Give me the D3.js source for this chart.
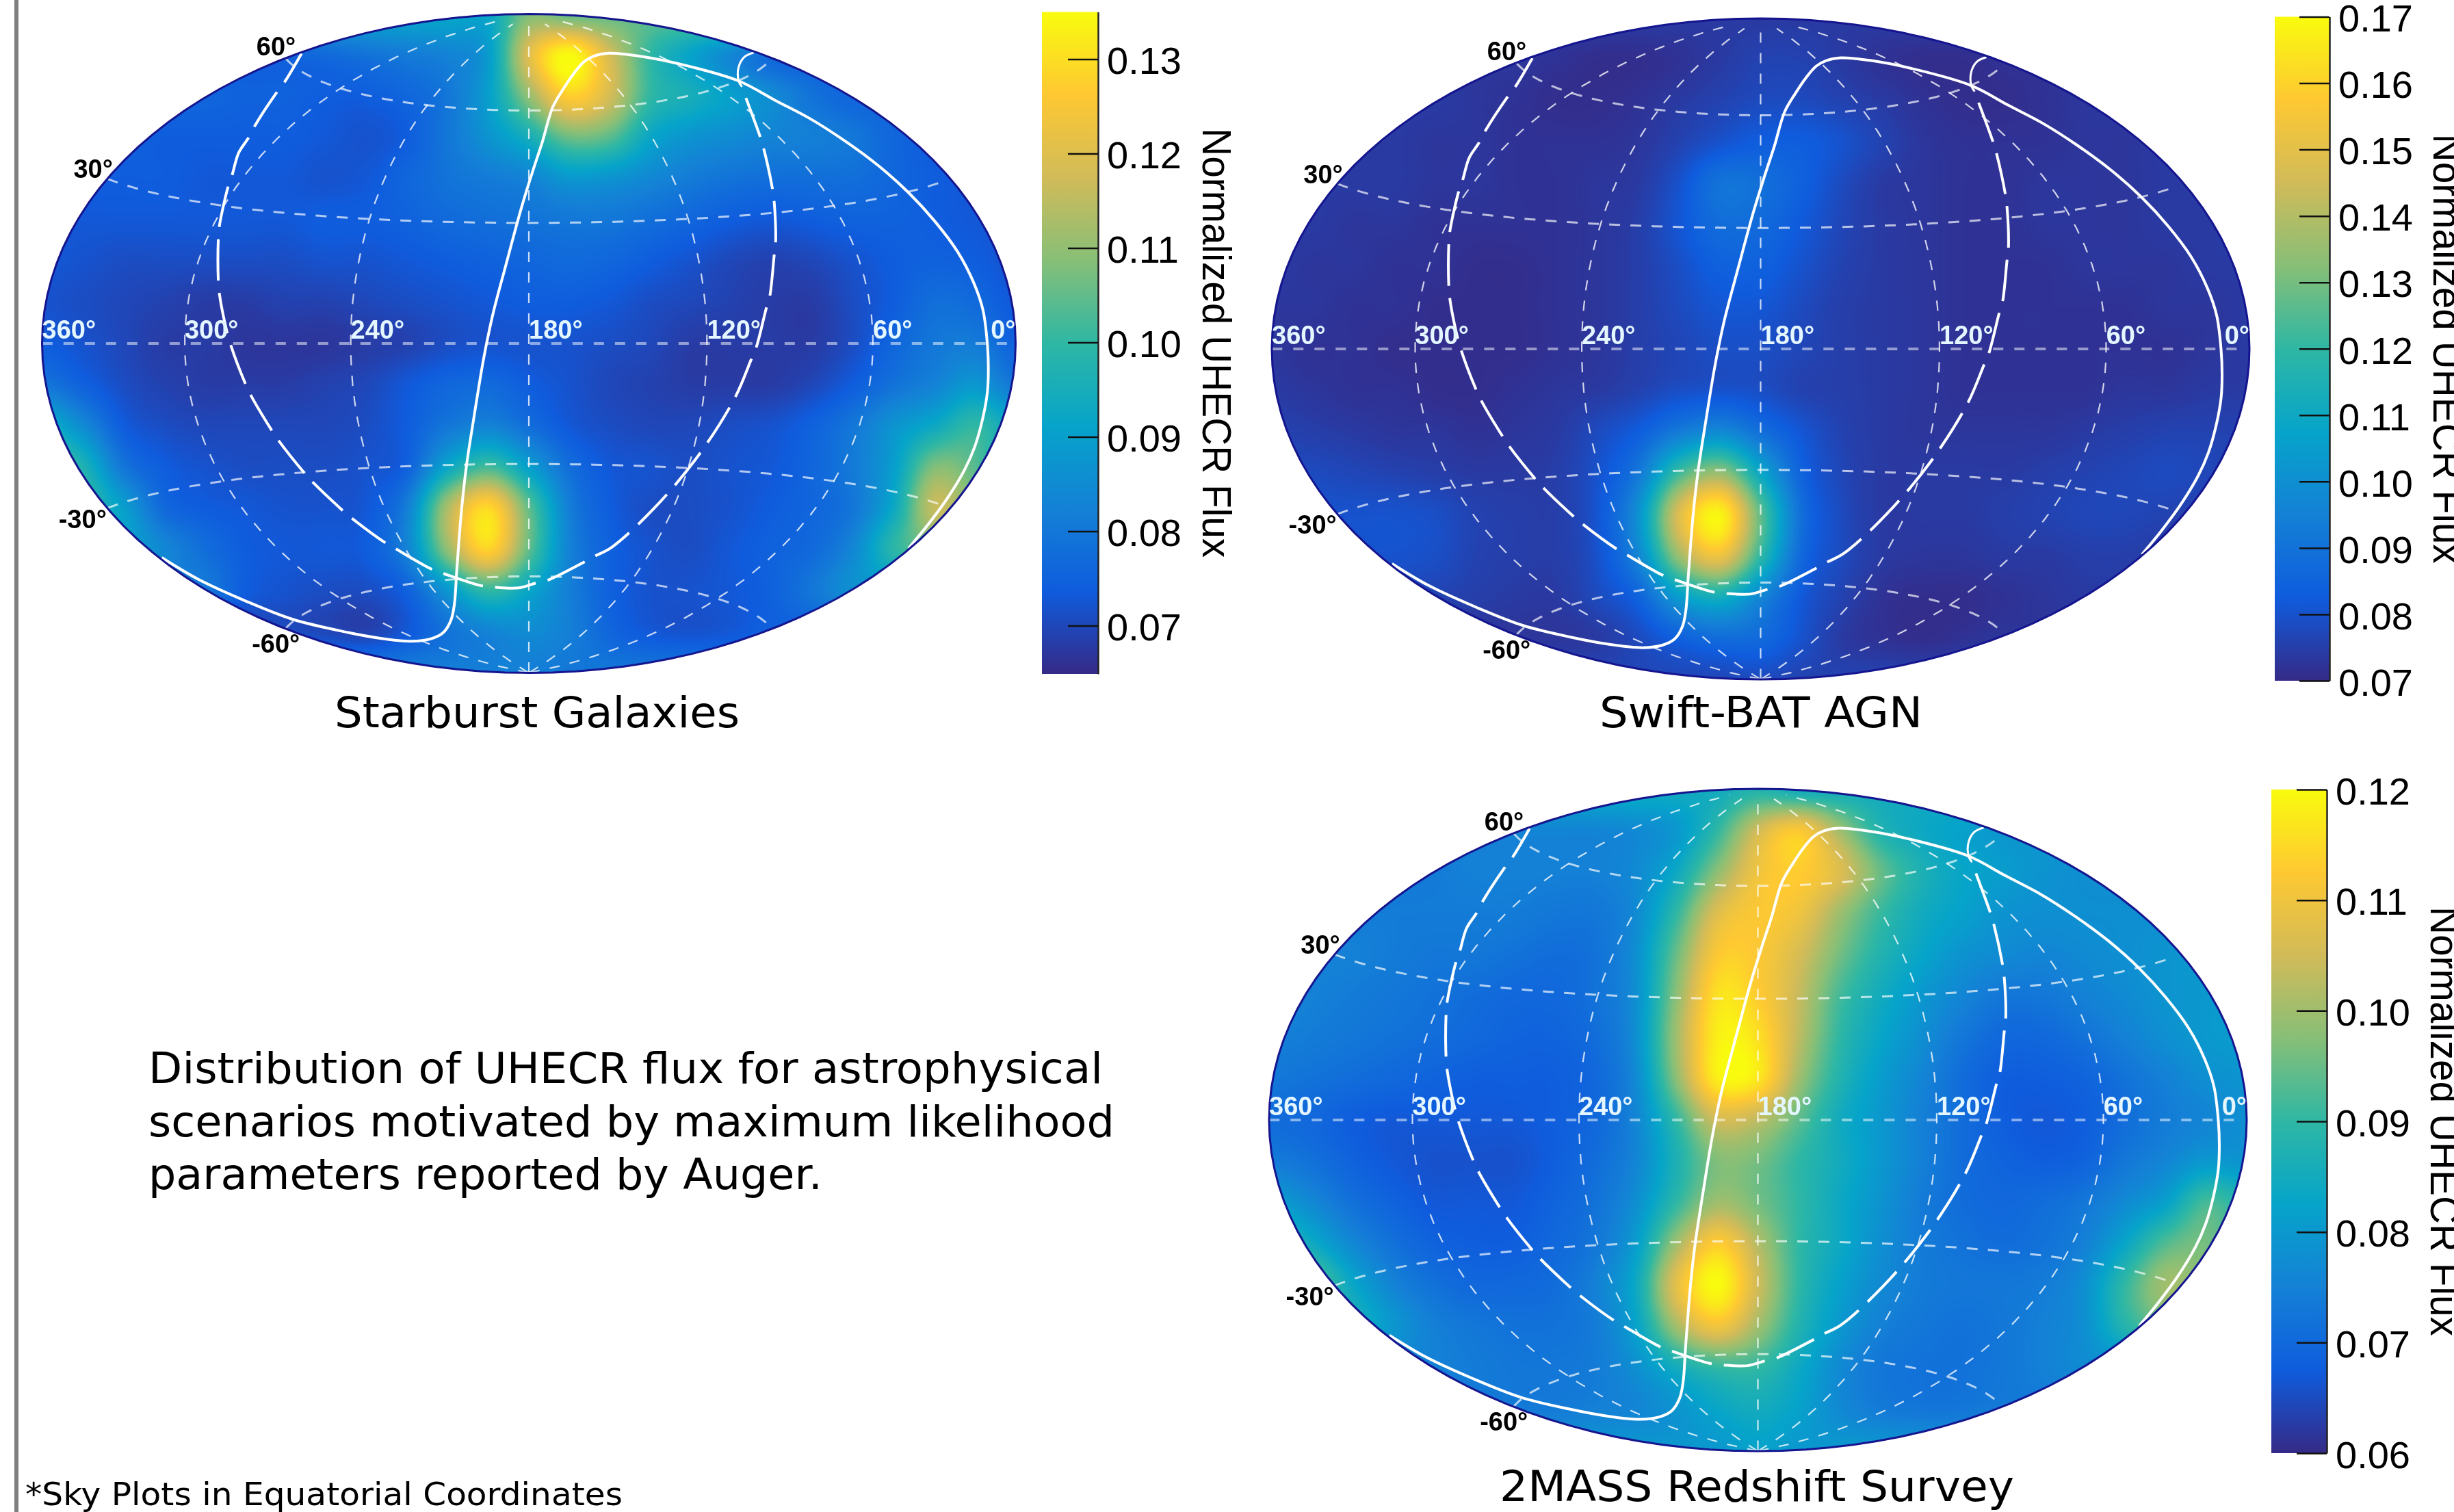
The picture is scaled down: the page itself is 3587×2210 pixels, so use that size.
<!DOCTYPE html>
<html><head><meta charset="utf-8">
<style>html,body{margin:0;padding:0;background:#fff}#wrap{position:relative;width:3587px;height:2210px;overflow:hidden}canvas,svg{position:absolute;left:0;top:0}</style>
<script src="https://cdn.jsdelivr.net/npm/d3@7"></script>
</head><body><div id="wrap"><canvas id="heat" width="3587" height="2210"></canvas><svg id="chart" width="3587" height="2210"></svg></div>
<script>
// Flux, x1000, at nodes of the projected plane.
// Rows run top to bottom (v = 1 ... -1, step 1/8); each row is centred on u = 0 with u step 1/12.
const fluxStarburst = [
[92,108,105],
[76,77,79,81,83,89,120,135,118,100,91,84,78],
[76,75,75,74,74,76,80,90,110,127,118,100,95,90,85,79,76],
[75,74,74,74,74,73,72,74,80,87,95,106,104,92,87,85,83,82,80,76,74],
[74,74,74,73,73,73,72,73,76,79,81,83,88,87,84,81,79,78,78,78,76,74,73],
[73,73,73,73,73,73,73,74,74,75,77,78,79,80,80,78,76,74,73,74,75,75,74,73,73],
[73,72,71,71,71,71,71,72,72,73,74,75,76,77,76,74,72,70,69,70,72,74,75,74,72],
[72,71,70,69,68,68,69,69,70,71,72,73,74,74,73,71,70,69,68,68,71,74,78,77,73],
[74,72,70,68,68,67,67,67,68,69,71,72,72,72,71,70,68,68,68,68,71,76,80,81,75],
[80,75,71,69,68,68,68,69,70,73,76,77,74,72,70,69,68,68,68,70,74,79,83,88,80],
[95,85,74,71,70,70,70,70,71,74,80,83,78,73,71,70,70,71,72,75,80,87,93,100,92],
[105,97,80,74,72,71,71,71,72,75,92,102,90,78,73,72,71,72,73,76,81,90,108,104,92],
[100,90,77,74,73,72,72,73,82,113,129,105,82,74,71,71,72,74,76,80,93,116,108],
[90,84,78,74,73,73,74,83,110,128,105,83,75,72,71,73,75,77,84,99,105],
[80,74,72,71,71,75,88,100,92,82,75,72,72,73,75,80,86],
[71,70,69,73,79,83,85,82,76,73,72,73,75],
[82,82,80]];
const fluxSwift = [
[74,74,74],
[73,72,71,71,72,74,76,76,74,72,71,71,72],
[74,73,72,71,71,72,74,76,78,78,76,74,72,71,71,72,73],
[74,74,73,73,72,72,72,73,76,80,83,83,80,76,73,72,72,72,73,73,74],
[74,74,74,73,73,72,72,73,74,80,90,89,84,78,74,73,72,72,73,73,73,74,74],
[74,74,73,73,72,72,72,72,73,75,81,88,87,82,77,74,73,72,72,73,73,73,74,74,75],
[74,73,73,72,72,71,71,72,73,75,79,84,84,80,76,74,73,72,72,72,73,73,73,74,74],
[73,73,72,72,71,71,71,72,73,75,78,81,81,78,75,74,73,72,72,72,72,72,73,73,74],
[73,72,72,71,71,71,71,72,73,75,77,79,79,77,75,74,73,72,72,72,72,72,72,73,74],
[74,73,72,72,71,71,72,73,74,76,79,80,79,76,75,74,73,72,72,72,72,73,73,74,74],
[76,75,74,73,73,72,73,74,78,83,93,98,89,81,76,74,73,73,73,73,74,75,76,76,76],
[78,78,77,76,75,74,74,75,80,92,122,135,109,85,77,74,74,74,74,75,76,77,78,77,76],
[80,80,80,79,76,75,75,81,101,148,168,127,89,78,74,74,74,75,76,77,77,76,75],
[80,80,79,76,75,75,80,97,136,153,120,87,78,74,73,73,74,74,75,75,74],
[76,75,74,74,78,85,105,113,97,82,76,72,71,71,72,73,74],
[73,73,74,78,84,88,87,80,74,72,71,72,73],
[77,78,76]];
const fluxTwoMass = [
[85,88,85],
[76,76,76,77,80,90,105,112,100,88,84,82,80],
[74,75,75,75,75,77,84,98,110,113,107,95,87,83,81,79,78],
[74,74,74,74,74,73,73,77,90,107,112,110,100,91,85,82,79,78,78,78,78],
[75,75,74,73,73,72,71,72,78,95,112,112,106,96,88,83,79,77,76,77,78,79,80],
[76,75,74,73,72,71,70,70,72,78,98,116,113,104,92,85,80,76,73,73,75,77,79,80,81],
[75,74,73,72,71,70,69,69,71,78,100,118,116,103,90,83,78,73,70,70,72,75,78,80,81],
[73,72,71,70,69,68,68,68,70,77,98,118,117,100,88,81,76,71,68,68,69,72,75,78,79],
[71,70,68,67,67,67,67,68,70,76,90,105,103,94,85,80,75,71,68,67,68,71,74,76,78],
[74,72,69,67,66,66,66,68,71,76,87,97,96,90,85,80,75,71,69,68,69,73,76,80,79],
[82,77,72,69,67,67,67,69,72,78,90,100,96,90,84,79,74,71,70,71,73,77,82,92,88],
[92,85,77,72,69,68,68,70,73,81,100,113,102,90,84,78,74,72,71,72,75,83,93,96,90],
[95,84,76,72,70,70,71,75,84,108,120,105,90,82,77,74,73,73,74,78,90,100,97],
[86,80,75,73,72,72,74,82,100,110,100,88,80,75,73,72,73,75,78,88,94],
[75,74,73,73,74,78,85,90,90,84,77,73,72,72,73,75,77],
[74,74,75,76,79,83,85,82,77,74,73,73,74],
[80,82,80]];

// Overlay curves, in [u, v] fractions of the map's half-axes.
const solidCurve = [[.780,-.622],[.820,-.550],[.858,-.474],[.895,-.384],[.916,-.314],[.933,-.224],[.942,-.148],[.944,-.079],[.942,-.003],[.933,.101],[.914,.184],[.881,.278],[.834,.371],[.780,.458],[.717,.541],[.647,.617],[.577,.683],[.506,.738],[.431,.797],[.308,.849],[.224,.873],[.164,.881],[.135,.873],[.114,.856],[.093,.821],[.071,.773],[.049,.717],[.028,.613],[.008,.523],[-.015,.413],[-.047,.239],[-.073,.094],[-.086,.006],[-.096,-.072],[-.112,-.217],[-.128,-.370],[-.138,-.501],[-.148,-.688],[-.153,-.792],[-.160,-.840],[-.176,-.878],[-.202,-.897],[-.241,-.904],[-.305,-.895],[-.389,-.872],[-.486,-.837],[-.583,-.781],[-.679,-.716],[-.754,-.650]];
const dashedCurve = [[-.467,.880],[-.502,.793],[-.518,.762],[-.564,.658],[-.576,.624],[-.596,.579],[-.610,.509],[-.618,.475],[-.636,.354],[-.638,.316],[-.638,.191],[-.636,.154],[-.625,.066],[-.613,-.002],[-.583,-.120],[-.572,-.155],[-.529,-.262],[-.515,-.293],[-.463,-.390],[-.446,-.418],[-.384,-.505],[-.365,-.529],[-.296,-.604],[-.275,-.622],[-.200,-.685],[-.176,-.698],[-.099,-.735],[-.070,-.740],[-.021,-.742],[.013,-.728],[.038,-.719],[.113,-.664],[.135,-.646],[.17,-.619],[.257,-.501],[.348,-.341],[.423,-.166],[.457,-.048],[.467,-.013],[.488,.108],[.495,.143],[.504,.267],[.507,.305],[.504,.43],[.501,.465],[.483,.589],[.476,.624],[.446,.745]];
const capArc = [[.462,.883],[.443,.870],[.431,.839],[.431,.797],[.438,.779]];

const raLines = [300,240,180,120,60];
const raLabels = [360,300,240,180,120,60,0];
const decLines = [-60,-30,30,60];
const ticksStarburst = [.07,.08,.09,.10,.11,.12,.13];
const ticksSwift = [.07,.08,.09,.10,.11,.12,.13,.14,.15,.16,.17];
const ticksTwoMass = [.06,.07,.08,.09,.10,.11,.12];
const captions = ["Starburst Galaxies","Swift-BAT AGN","2MASS Redshift Survey"];
const noteLines = ["Distribution of UHECR flux for astrophysical","scenarios motivated by maximum likelihood","parameters reported by Auger."];
const footnote = "*Sky Plots in Equatorial Coordinates";
const axisTitle = "Normalized UHECR Flux";
const birdStops = [[.2082,.1664,.5293],[.0592,.3599,.8684],[.0780,.5041,.8385],[.0232,.6419,.7914],[.1802,.7178,.6425],[.5301,.7492,.4662],[.8186,.7328,.3499],[.9956,.7862,.1968],[.9764,.9832,.0539]];

const panels = [
 {flux:fluxStarburst, ticks:ticksStarburst, cx:773,    cy:502,  rx:711.5, ry:481.5, lo:.0649, hi:.135, barX:1523, barR:1605, barT:17.5, barB:985,  titleX:1758, cap:captions[0], capX:785,  capY:1063, capW:592},
 {flux:fluxSwift,     ticks:ticksSwift,     cx:2573.5, cy:510,  rx:714.5, ry:483,   lo:.07,   hi:.17,  barX:3325, barR:3405, barT:24.5, barB:995,  titleX:3557, cap:captions[1], capX:2574, capY:1063, capW:472},
 {flux:fluxTwoMass,   ticks:ticksTwoMass,   cx:2569.5, cy:1637, rx:714.5, ry:484,   lo:.06,   hi:.12,  barX:3320, barR:3401, barT:1154, barB:2124, titleX:3553, cap:captions[2], capX:2568, capY:2194, capW:752}
];

const svg = d3.select("#chart");
const ctx = document.getElementById("heat").getContext("2d");
const SANS = "'Liberation Sans',Arial,sans-serif", CAP = "'DejaVu Sans',Verdana,sans-serif";

svg.append("rect").attr("x",21).attr("y",0).attr("width",6).attr("height",2210).attr("fill","#7f7f7f");

const birdColors = birdStops.map(c=>d3.rgb(c[0]*255,c[1]*255,c[2]*255));
const toGrid = rows => rows.map(r=>{const h=(r.length-1)/2;return d3.range(25).map(c=>r[Math.max(-h,Math.min(h,c-12))+h]/1000);});
const cr = (a,b,c,d,t)=>b+.5*t*(c-a+t*(2*a-5*b+4*c-d+t*(3*(b-c)+d-a)));

panels.forEach((p,pi)=>{
  const tDomain = d3.range(9).map(i=>p.lo+(p.hi-p.lo)*i/8);
  const color = d3.scaleLinear().domain(tDomain).range(birdColors).interpolate(d3.interpolateRgb).clamp(true);
  const lut = d3.range(1024).map(i=>d3.rgb(color(p.lo+(p.hi-p.lo)*i/1023)));
  const grid = toGrid(p.flux);
  const colOf = d3.scaleLinear([-1,1],[0,24]), rowOf = d3.scaleLinear([1,-1],[0,16]);
  const xs = d3.scaleLinear([-1,1],[p.cx-p.rx,p.cx+p.rx]), ys = d3.scaleLinear([1,-1],[p.cy-p.ry,p.cy+p.ry]);

  // heat map
  const x0=Math.floor(p.cx-p.rx), y0=Math.floor(p.cy-p.ry), w=Math.ceil(2*p.rx)+1, h=Math.ceil(2*p.ry)+1;
  const img = ctx.createImageData(w,h);
  const cl=(a,n)=>a<0?0:a>n?n:a;
  const lutScale = d3.scaleLinear([p.lo,p.hi],[0,1023]).clamp(true);
  for(let j=0;j<h;j++){
    const v=ys.invert(y0+j+.5), rf=rowOf(v), r=Math.floor(rf), tr=rf-r;
    for(let i=0;i<w;i++){
      const u=xs.invert(x0+i+.5);
      if(u*u+v*v>1) continue;
      const cf=colOf(u), c=Math.floor(cf), tc=cf-c, col=[];
      for(let k=-1;k<=2;k++){
        const g=grid[cl(r+k,16)];
        col.push(cr(g[cl(c-1,24)],g[cl(c,24)],g[cl(c+1,24)],g[cl(c+2,24)],tc));
      }
      const val=cr(col[0],col[1],col[2],col[3],tr);
      const e=lut[Math.round(lutScale(val))], o=4*(j*w+i);
      img.data[o]=e.r;img.data[o+1]=e.g;img.data[o+2]=e.b;img.data[o+3]=255;
    }
  }
  ctx.putImageData(img,x0,y0);

  // Hammer projection stretched to this panel's ellipse
  const aspect=p.rx/p.ry;
  const raw=(l,f)=>{const cf=Math.cos(f),d=Math.sqrt(1+cf*Math.cos(l/2));return [aspect*cf*Math.sin(l/2)/d,Math.sin(f)/d];};
  const proj=d3.geoProjection(raw).scale(p.ry).translate([p.cx,p.cy]).precision(.3);
  const path=d3.geoPath(proj);
  const lonOf=ra=>180-ra;
  const g=svg.append("g");

  const grat=g.append("g").attr("fill","none").attr("stroke","#fff").attr("stroke-linecap","butt");
  raLines.forEach(ra=>{
    grat.append("path").datum({type:"LineString",coordinates:d3.range(-89.9,90,4).map(d=>[lonOf(ra),d])}).attr("d",path)
      .attr("stroke-width",2.2).attr("stroke-opacity",.78).attr("stroke-dasharray","15 15");
  });
  decLines.forEach(dec=>{
    grat.append("path").datum({type:"LineString",coordinates:d3.range(-179.9,180,4).map(l=>[l,dec])}).attr("d",path)
      .attr("stroke-width",3).attr("stroke-opacity",.68).attr("stroke-dasharray","16 15");
  });
  grat.append("path").datum({type:"LineString",coordinates:d3.range(-179.9,180,4).map(l=>[l,0])}).attr("d",path)
    .attr("stroke-width",4).attr("stroke-opacity",.5).attr("stroke-dasharray","15 16");

  const line=d3.line().x(d=>xs(d[0])).y(d=>ys(d[1])).curve(d3.curveCatmullRom.alpha(.5));
  const ov=g.append("g").attr("fill","none").attr("stroke","#fff");
  ov.append("path").attr("d",line(solidCurve)).attr("stroke-width",4);
  const dashed=ov.append("path").attr("d",line(dashedCurve)).attr("stroke-width",4);
  const L=dashed.node().getTotalLength(), gap=18, first=49;
  const n=Math.round((L-first)/78.5), period=(L-first)/n;
  dashed.attr("stroke-dasharray",`${period-gap} ${gap}`).attr("stroke-dashoffset",period-gap-first);
  ov.append("path").attr("d",line(capArc)).attr("stroke-width",3);

  g.append("path").datum({type:"Sphere"}).attr("d",path).attr("fill","none").attr("stroke","#15158f").attr("stroke-width",3);

  // RA labels
  raLabels.forEach(ra=>{
    const pt=proj([ra===360?-179.99:ra===0?179.99:lonOf(ra),0]);
    g.append("text").attr("x",pt[0]).attr("y",pt[1]-7).attr("text-anchor",ra===0?"end":"start")
      .attr("font-family",SANS).attr("font-weight","bold").attr("font-size",38).attr("fill","#e4f6ff").text(ra+"°");
  });
  // Dec labels
  const decOff={"60":[15,-4],"30":[8,-1],"-30":[-1,29],"-60":[21,35]};
  decLines.forEach(dec=>{
    const pt=proj([-179.99,dec]);
    g.append("text").attr("x",pt[0]+decOff[dec][0]).attr("y",pt[1]+decOff[dec][1]).attr("text-anchor","end")
      .attr("font-family",SANS).attr("font-weight","bold").attr("font-size",38).attr("fill","#000").text(dec+"°");
  });

  // colour bar
  const gid="bar"+pi;
  const grad=svg.append("defs").append("linearGradient").attr("id",gid).attr("x1",0).attr("x2",0).attr("y1",1).attr("y2",0);
  tDomain.forEach((d,i)=>grad.append("stop").attr("offset",i/8).attr("stop-color",birdColors[i]));
  svg.append("rect").attr("x",p.barX).attr("y",p.barT).attr("width",p.barR-p.barX).attr("height",p.barB-p.barT).attr("fill",`url(#${gid})`);
  const yBar=d3.scaleLinear([p.lo,p.hi],[p.barB,p.barT]);
  const ax=svg.append("g").attr("transform",`translate(${p.barR},0)`)
    .call(d3.axisRight(yBar).tickValues(p.ticks).tickFormat(d3.format(".2f")).tickSizeInner(-44).tickSizeOuter(0).tickPadding(13));
  ax.select(".domain").attr("stroke","#222").attr("stroke-width",2.5);
  ax.selectAll(".tick line").attr("stroke","#111").attr("stroke-width",2.5);
  ax.selectAll(".tick text").attr("font-family",SANS).attr("font-size",56).attr("fill","#000").attr("dy",".38em");
  svg.append("text").attr("transform",`translate(${p.titleX},${(p.barT+p.barB)/2}) rotate(90)`).attr("text-anchor","middle")
    .attr("font-family",SANS).attr("font-size",60).attr("fill","#000").attr("textLength",628).attr("lengthAdjust","spacingAndGlyphs").text(axisTitle);

  svg.append("text").attr("x",p.capX).attr("y",p.capY).attr("text-anchor","middle").attr("font-family",CAP).attr("font-size",63)
    .attr("fill","#000").attr("textLength",p.capW).attr("lengthAdjust","spacingAndGlyphs").text(p.cap);
});

const noteW=[1395,1412,985];
noteLines.forEach((t,i)=>svg.append("text").attr("x",217).attr("y",1583+i*77.5).attr("font-family",CAP).attr("font-size",63)
  .attr("fill","#000").attr("textLength",noteW[i]).attr("lengthAdjust","spacingAndGlyphs").text(t));
svg.append("text").attr("x",37).attr("y",2200).attr("font-family",CAP).attr("font-size",46).attr("fill","#000")
  .attr("textLength",873).attr("lengthAdjust","spacingAndGlyphs").text(footnote);
</script></body></html>
